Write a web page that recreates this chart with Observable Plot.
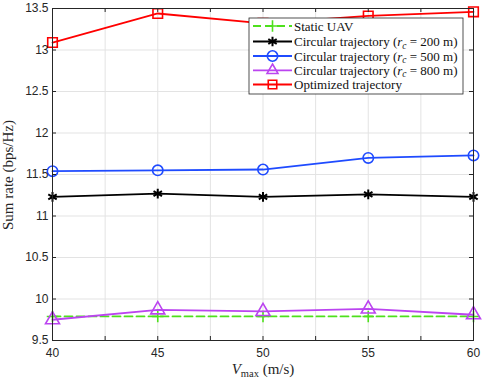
<!DOCTYPE html>
<html><head><meta charset="utf-8">
<script src="https://cdn.jsdelivr.net/npm/d3@7"></script>
<script src="https://cdn.jsdelivr.net/npm/@observablehq/plot@0.6"></script>
<style>body{margin:0;background:#fff} svg{display:block;background:#fff}</style>
</head><body><div id="chart"></div>
<script>
const vmax = [40, 45, 50, 55, 60];
const staticUAV = [9.79, 9.79, 9.79, 9.79, 9.79];
const circ200 = [11.23, 11.27, 11.23, 11.26, 11.23];
const circ500 = [11.54, 11.55, 11.56, 11.70, 11.73];
const circ800 = [9.75, 9.87, 9.85, 9.88, 9.81];
const optimized = [13.09, 13.44, 13.32, 13.41, 13.46];
const xTickLabels = [40, 45, 50, 55, 60];
const xTickMarks = [40, 42.5, 45, 47.5, 50, 52.5, 55, 57.5, 60];
const yTickLabels = [9.5, 10, 10.5, 11, 11.5, 12, 12.5, 13, 13.5];
const legendNames = ["Static UAV", "Circular trajectory", "Circular trajectory", "Circular trajectory", "Optimized trajectory"];
const radii = [null, 200, 500, 800, null];

const series = [
  {key: "static", values: staticUAV, color: "#4ee01c", symbol: "plus", r: 3.8, dash: "8,4"},
  {key: "c200", values: circ200, color: "#000000", symbol: "asterisk", r: 4.6, dash: null},
  {key: "c500", values: circ500, color: "#1f4bff", symbol: "circle", r: 5.2, dash: null},
  {key: "c800", values: circ800, color: "#bb44f0", symbol: "triangle", r: 5.2, dash: null},
  {key: "opt", values: optimized, color: "#ff0000", symbol: "square", r: 5.4, dash: null}
];

const W = 484, H = 381, mL = 52, mR = 11, mT = 8, mB = 41;
const pw = W - mL - mR, ph = H - mT - mB;

const marks = [
  Plot.gridX(xTickMarks, {stroke: "#e3e3e3", strokeOpacity: 1}),
  Plot.gridY(yTickLabels, {stroke: "#e3e3e3", strokeOpacity: 1}),
];
for (const s of series) {
  const data = vmax.map((v, i) => ({x: v, y: s.values[i]}));
  marks.push(Plot.line(data, {x: "x", y: "y", stroke: s.color, strokeWidth: 1.8, strokeDasharray: s.dash || undefined}));
  marks.push(Plot.dot(data, {x: "x", y: "y", stroke: s.color, symbol: s.symbol, r: s.r, strokeWidth: s.symbol === "asterisk" ? 2 : 1.6, fill: "none"}));
}
marks.push(
  Plot.frame({stroke: "#262626", strokeWidth: 1}),
  Plot.tickX(xTickMarks, {x: d => d, stroke: "#262626", insetTop: ph - 4}),
  Plot.tickX(xTickMarks, {x: d => d, stroke: "#262626", insetBottom: ph - 4}),
  Plot.tickY(yTickLabels, {y: d => d, stroke: "#262626", insetRight: pw - 4}),
  Plot.tickY(yTickLabels, {y: d => d, stroke: "#262626", insetLeft: pw - 4}),
  Plot.axisX(xTickLabels, {tickSize: 0, tickPadding: 8, label: null, fontSize: 12, fill: "#262626"}),
  Plot.axisY(yTickLabels, {tickSize: 0, tickPadding: 4, label: null, fontSize: 12, fill: "#262626", tickFormat: d => String(d)})
);

const chart = Plot.plot({
  width: W, height: H,
  marginLeft: mL, marginRight: mR, marginTop: mT, marginBottom: mB,
  style: {fontFamily: "'Liberation Sans', Arial, sans-serif", background: "#fff"},
  x: {domain: [40, 60]},
  y: {domain: [9.5, 13.5]},
  marks
});

const svg = d3.select(chart);
const serif = "'Liberation Serif', 'Times New Roman', serif";

// x label
const xl = svg.append("text").attr("x", 263).attr("y", 374).attr("text-anchor", "middle")
  .attr("font-family", serif).attr("font-size", 15).attr("fill", "#262626");
xl.append("tspan").attr("font-style", "italic").text("V");
xl.append("tspan").attr("font-size", 10.5).attr("dy", 3).text("max");
xl.append("tspan").attr("dy", -3).text(" (m/s)");

// y label
svg.append("text").attr("transform", "translate(13,175) rotate(-90)").attr("text-anchor", "middle")
  .attr("font-family", serif).attr("font-size", 15).attr("fill", "#262626").text("Sum rate (bps/Hz)");

// legend
const lx = 249, ly = 18, lw = 214, lh = 76;
const lg = svg.append("g").attr("text-anchor", "start");
lg.append("rect").attr("x", lx).attr("y", ly).attr("width", lw).attr("height", lh)
  .attr("fill", "#fff").attr("stroke", "#262626").attr("stroke-width", 0.8);
const rowY = [26, 41.5, 56, 70.3, 84.5];
const symMap = {plus: d3.symbolPlus, asterisk: d3.symbolAsterisk, circle: d3.symbolCircle, triangle: d3.symbolTriangle2, square: d3.symbolSquare2};
series.forEach((s, i) => {
  const y = rowY[i];
  lg.append("line").attr("x1", lx + 4).attr("x2", lx + 43).attr("y1", y).attr("y2", y)
    .attr("stroke", s.color).attr("stroke-width", 1.8).attr("stroke-dasharray", s.dash);
  lg.append("path").attr("transform", `translate(${lx + 23.5},${y})`)
    .attr("d", d3.symbol(symMap[s.symbol], Math.PI * s.r * s.r)())
    .attr("fill", "none").attr("stroke", s.color).attr("stroke-width", s.symbol === "asterisk" ? 2 : 1.6);
  const t = lg.append("text").attr("x", lx + 45).attr("y", y).attr("dy", "0.35em").attr("text-anchor", "start")
    .attr("font-family", serif).attr("font-size", 13).attr("fill", "#111");
  if (radii[i] == null) {
    t.text(legendNames[i]);
  } else {
    t.append("tspan").text(legendNames[i] + " (");
    t.append("tspan").attr("font-style", "italic").text("r");
    t.append("tspan").attr("font-style", "italic").attr("font-size", 9.5).attr("dy", 2.5).text("c");
    t.append("tspan").attr("dy", -2.5).text(" = " + radii[i] + " m)");
  }
});

document.getElementById("chart").appendChild(chart);
</script>
</body></html>
